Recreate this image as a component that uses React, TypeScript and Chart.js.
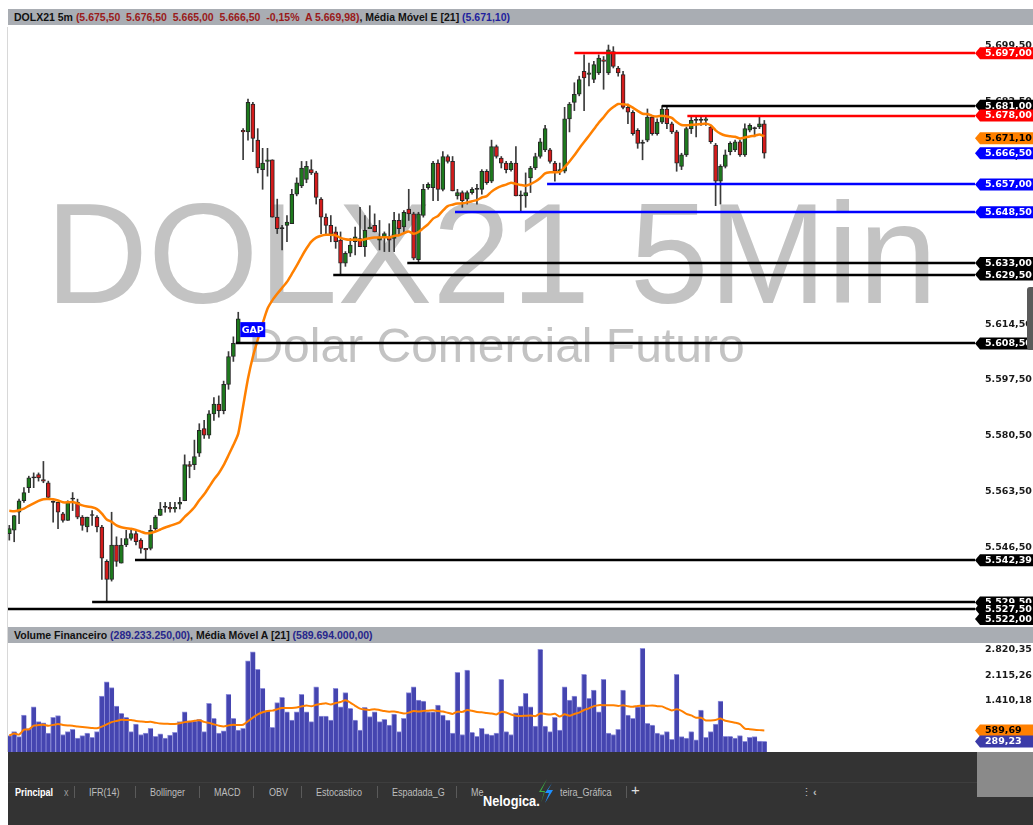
import React, { useEffect, useRef } from "react";
import { Chart, registerables } from "chart.js";

Chart.register(...registerables);

// ---------------- DATA ----------------
const SYMBOL = "DOLX21 5m";
const CHANGE_PCT = -0.15;
const AVG_PRICE = 5669.98;
const EMA_PERIOD = 21;
const EMA_SEED = 5558; // EMA value just before the first visible candle
const EMA_LAST = 5671.1;
const VOL_LAST = 289233250;
const VOL_MA_LAST = 589694000;
const VOL_MA_PERIOD = 21;

const OPEN = [
  5550.5, 5551.5, 5557, 5560.5, 5564.5, 5567.5, 5568.5, 5567, 5566, 5560,
  5560, 5556.5, 5554.5, 5561, 5560, 5555.5, 5552.5, 5556, 5555.5, 5552.5,
  5542, 5536.5, 5547, 5541.5, 5547, 5549, 5550.5, 5548.5, 5546, 5546,
  5552, 5556, 5558.5, 5558.5, 5558, 5559.5, 5560.5, 5571.5, 5571.5, 5575,
  5582.5, 5580.5, 5587, 5590, 5588, 5596, 5604.5, 5608.5, 5673.5, 5673,
  5681.5, 5670.5, 5661.5, 5664, 5664.5, 5647, 5643.5, 5644.5, 5645, 5654,
  5656.5, 5658.5, 5661.5, 5660.5, 5652.5, 5647, 5644.5, 5642.5, 5640, 5633,
  5636, 5639.5, 5640.5, 5638, 5643.5, 5644.5, 5640, 5641, 5641, 5640.5,
  5646, 5644, 5649.5, 5648, 5634, 5647.5, 5656, 5656, 5663.5, 5655.5,
  5665.5, 5664, 5653.5, 5654.5, 5652.5, 5654.5, 5655.5, 5655.5, 5661, 5658,
  5668.5, 5665, 5663.5, 5661.5, 5663.5, 5653.5, 5653.5, 5659, 5662, 5665.5,
  5667.5, 5667.5, 5663.5, 5661, 5661, 5677, 5682, 5684.5, 5691.5, 5690.5,
  5689, 5691, 5695, 5691, 5697.5, 5692.5, 5690.5, 5680.5, 5679, 5673.5,
  5669.5, 5670.5, 5677.5, 5672.5, 5676, 5680, 5675.5, 5673, 5662.5, 5666,
  5674, 5676.5, 5676.5, 5676.5, 5674.5, 5669, 5658, 5662.5, 5667, 5667.5,
  5670, 5666, 5673.5, 5674, 5674.5, 5675.5,
];
const HIGH = [
  5553, 5556, 5561, 5564.5, 5568, 5569, 5569, 5572.5, 5566.5, 5560.5,
  5560, 5557, 5560.5, 5563, 5561, 5556, 5555.5, 5557.5, 5556, 5553,
  5542.5, 5557, 5549.5, 5549, 5551.5, 5552, 5551.5, 5549, 5546, 5553,
  5556, 5560, 5560, 5560, 5560, 5561.5, 5574.5, 5572.5, 5579, 5584,
  5585, 5588, 5592, 5592.5, 5597, 5606, 5610.5, 5618, 5674, 5683,
  5682, 5674, 5668, 5668, 5664.5, 5652.5, 5644.5, 5647.5, 5655.5, 5659,
  5664, 5664, 5664.5, 5661, 5653, 5648, 5647.5, 5644, 5642.5, 5636.5,
  5640.5, 5644, 5650, 5647.5, 5650.5, 5648, 5646, 5642.5, 5645, 5648.5,
  5648, 5649, 5655.5, 5648.5, 5648.5, 5657, 5657.5, 5664, 5664.5, 5667,
  5666, 5665.5, 5655.5, 5655, 5655, 5656, 5657, 5661.5, 5661.5, 5670.5,
  5669, 5665.5, 5664, 5664, 5668.5, 5655, 5660.5, 5662.5, 5666.5, 5671,
  5675, 5668, 5664, 5663.5, 5680.5, 5682, 5688, 5690, 5696.5, 5694,
  5694.5, 5696.5, 5696, 5699.5, 5699, 5693, 5691.5, 5681.5, 5679.5, 5674,
  5670.5, 5680, 5678, 5677, 5681, 5681, 5676, 5673.5, 5666.5, 5674.5,
  5678, 5678, 5678, 5678, 5675, 5669.5, 5663, 5667.5, 5670, 5670.5,
  5670.5, 5675.5, 5675.5, 5674.5, 5678, 5676.5,
];
const LOW = [
  5548.5, 5548, 5553.5, 5560, 5563, 5564.5, 5566.5, 5566, 5561, 5554,
  5552, 5554, 5554.5, 5557.5, 5555, 5551.5, 5551, 5553, 5551, 5536.5,
  5529.5, 5536, 5540.5, 5541.5, 5546.5, 5548.5, 5547, 5544.5, 5542.5, 5545.5,
  5551.5, 5556, 5557, 5557, 5557, 5558, 5560.5, 5567.5, 5570, 5574,
  5579.5, 5579.5, 5585, 5586, 5587, 5594.5, 5603, 5608.5, 5664.5, 5670.5,
  5667, 5660.5, 5655.5, 5659.5, 5647, 5642, 5637, 5639.5, 5645, 5653.5,
  5656, 5657.5, 5660, 5651, 5642, 5642, 5639.5, 5637.5, 5629.5, 5632,
  5635, 5635.5, 5638, 5635, 5643.5, 5642.5, 5637, 5636.5, 5636.5, 5636.5,
  5641.5, 5642.5, 5646, 5634, 5633, 5647, 5655.5, 5652, 5652, 5655,
  5663.5, 5655, 5652.5, 5650, 5651, 5654, 5651, 5654, 5657, 5657.5,
  5665, 5662, 5660.5, 5661, 5653.5, 5648.5, 5650, 5654.5, 5661.5, 5665,
  5667, 5663.5, 5658, 5660, 5660.5, 5673, 5679.5, 5684, 5679.5, 5687,
  5688, 5690.5, 5686, 5690.5, 5692.5, 5690, 5680, 5675.5, 5672, 5668,
  5664.5, 5670, 5672, 5672, 5675.5, 5674, 5672.5, 5661, 5661.5, 5665.5,
  5672.5, 5671.5, 5675, 5675, 5669.5, 5650.5, 5651, 5662, 5666, 5667,
  5665.5, 5665.5, 5673, 5671.5, 5674, 5665,
];
const CLOSE = [
  5552, 5556, 5560.5, 5563, 5567.5, 5567.5, 5567.5, 5566.5, 5561.5, 5560,
  5557, 5554.5, 5560, 5561, 5555.5, 5553, 5555.5, 5556, 5552.5, 5543,
  5536.5, 5547, 5542, 5547, 5549, 5550.5, 5548, 5546, 5545.5, 5551.5,
  5555.5, 5558, 5558.5, 5558, 5558.5, 5560, 5571.5, 5571, 5574, 5582,
  5580.5, 5587, 5590, 5588, 5596, 5604.5, 5608.5, 5616, 5673, 5682,
  5671, 5662, 5663.5, 5664.5, 5647, 5643.5, 5643.5, 5645.5, 5654, 5657.5,
  5662, 5662.5, 5660.5, 5653, 5647, 5644.5, 5642, 5639.5, 5633, 5636,
  5638.5, 5641, 5638, 5643, 5644, 5642.5, 5641, 5642, 5640, 5646,
  5643.5, 5648.5, 5648, 5634.5, 5648, 5655.5, 5657, 5663.5, 5655.5, 5665.5,
  5664, 5655, 5654.5, 5652, 5654.5, 5655.5, 5655.5, 5661, 5657.5, 5668.5,
  5665.5, 5663.5, 5661.5, 5663.5, 5653.5, 5653.5, 5654.5, 5662, 5665.5, 5670,
  5674, 5664, 5661, 5661.5, 5677, 5681.5, 5684.5, 5689, 5689.5, 5691,
  5693.5, 5695.5, 5694.5, 5698, 5693, 5691, 5680.5, 5679, 5672.5, 5669.5,
  5669.5, 5677.5, 5672.5, 5676, 5680, 5675.5, 5673, 5663.5, 5666, 5674,
  5676.5, 5676.5, 5676.5, 5677, 5670, 5658, 5662.5, 5666, 5669.5, 5670,
  5666, 5674, 5675, 5674, 5675.5, 5666.5,
];
// financial volume, in millions
const VOLUME = [
  450, 560, 420, 1013, 640, 1240, 830, 802, 520, 950,
  994, 480, 560, 621, 380, 450, 520, 400, 560, 1533,
  1925, 1761, 1259, 1059, 950, 560, 767, 480, 520, 648,
  430, 500, 380, 460, 540, 830, 1103, 849, 849, 895,
  560, 1333, 922, 520, 580, 1580, 922, 600, 650, 2500,
  2746, 2264, 1744, 1131, 676, 1350, 1498, 1103, 876, 1103,
  1580, 1103, 830, 1788, 986, 986, 876, 1744, 1240, 1624,
  1196, 876, 600, 1223, 967, 1103, 830, 895, 739, 1040,
  560, 922, 1624, 1788, 1424, 1396, 1103, 1103, 1287, 1013,
  876, 520, 2182, 480, 2245, 540, 430, 648, 500, 460,
  520, 1990, 560, 480, 1076, 1259, 1607, 1240, 712, 2812,
  712, 560, 950, 600, 1788, 1424, 1533, 1240, 2127, 1470,
  1698, 1103, 1990, 520, 480, 621, 1698, 1013, 922, 1240,
  2839, 785, 739, 520, 480, 560, 350, 2127, 420, 380,
  560, 330, 1150, 400, 560, 767, 1396, 430, 430, 380,
  450, 290, 400, 420, 300, 289.23,
];

// user drawn horizontal levels
const LEVELS = [5697, 5681, 5678, 5657, 5648.5, 5633, 5629.5, 5608.5, 5542.39, 5529.5, 5527.5, 5522];
const LEVEL_KIND = ["res", "neu", "res", "sup", "sup", "neu", "neu", "neu", "neu", "neu", "neu", "neu"];
const LEVEL_FROM: (number | null)[] = [116, 134, 139.2, 110.4, 91.5, 81.7, 66.5, 46.5, 25.8, 17, -1, null];

const PRICE_TICKS = [5546.5, 5563.5, 5580.5, 5597.5, 5614.5, 5631.5, 5648.5, 5665.5, 5682.5, 5699.5];
const VOL_TICKS = [1410.18, 2115.26, 2820.35];

const GAP_AT = { index: 47, price: 5612.7, text: "GAP" };
const WATERMARK_TITLE = "DOLX21 5Min";
const WATERMARK_SUB = "Dolar Comercial Futuro";

const TABS = ["IFR(14)", "Bollinger", "MACD", "OBV", "Estocastico", "Espadada_G", "Me"];

// ---------------- STYLE ----------------
const X_MIN = -0.27;
const X_MAX = 198.25;
const Y_MIN = 5522;
const Y_MAX = 5705;
const V_MIN = 0;
const V_MAX = 2985;
const ORANGE = "#ff8000";
const KIND_COLOR: Record<string, string> = { res: "#ff0000", neu: "#000000", sup: "#0000ff" };
const AXIS_FONT = 'bold 9.5px "DejaVu Sans"';

// ---------------- HELPERS ----------------
function fmt(v: number, d: number) {
  const s = Math.abs(v).toFixed(d);
  const [ip, dp] = s.split(".");
  const ipf = ip.replace(/\B(?=(\d{3})+(?!\d))/g, ".");
  return (v < 0 ? "-" : "") + ipf + (dp ? "," + dp : "");
}
function computeEma(values: number[], period: number, seed: number) {
  const k = 2 / (period + 1);
  let e = seed;
  return values.map((v) => (e = e + k * (v - e)));
}
function computeSma(values: number[], period: number) {
  return values.map((_, i) => {
    const w = values.slice(Math.max(0, i - period + 1), i + 1);
    return w.reduce((a, b) => a + b, 0) / w.length;
  });
}
function drawTag(ctx: CanvasRenderingContext2D, x: number, y: number, w: number, text: string, fill: string, color: string) {
  const h = 12;
  const tip = 5;
  ctx.beginPath();
  ctx.moveTo(x, y);
  ctx.lineTo(x + tip, y - h / 2);
  ctx.lineTo(x + w, y - h / 2);
  ctx.lineTo(x + w, y + h / 2);
  ctx.lineTo(x + tip, y + h / 2);
  ctx.closePath();
  ctx.fillStyle = fill;
  ctx.fill();
  ctx.fillStyle = color;
  ctx.font = AXIS_FONT;
  ctx.textAlign = "left";
  ctx.textBaseline = "middle";
  ctx.fillText(text, x + 10, y + 0.5);
}

const pricePlugin = {
  id: "priceDecor",
  beforeDatasetsDraw(chart: any) {
    const { ctx, chartArea: a } = chart;
    ctx.save();
    ctx.fillStyle = "#c3c3c3";
    ctx.textAlign = "center";
    ctx.textBaseline = "alphabetic";
    const cx = (a.left + a.right) / 2;
    ctx.font = '142px "Liberation Sans"';
    ctx.fillText(WATERMARK_TITLE, cx, a.top + 276);
    ctx.font = '48px "Liberation Sans"';
    ctx.fillText(WATERMARK_SUB, cx + 5, a.top + 335);
    ctx.restore();
  },
  afterDatasetsDraw(chart: any) {
    const { ctx, chartArea: a, scales } = chart;
    const xs = scales.x;
    const ys = scales.y;
    ctx.save();
    ctx.beginPath();
    ctx.rect(a.left, a.top, a.right - a.left, a.bottom - a.top);
    ctx.clip();
    LEVELS.forEach((lv, i) => {
      const from = LEVEL_FROM[i];
      if (from === null) return;
      const y = Math.round(ys.getPixelForValue(lv));
      const x0 = Math.max(a.left, xs.getPixelForValue(from));
      ctx.strokeStyle = KIND_COLOR[LEVEL_KIND[i]];
      ctx.lineWidth = 2.5;
      ctx.beginPath();
      ctx.moveTo(x0, y);
      ctx.lineTo(a.right, y);
      ctx.stroke();
    });
    // GAP marker
    const gx = xs.getPixelForValue(GAP_AT.index) + 2;
    const gy = ys.getPixelForValue(GAP_AT.price);
    ctx.fillStyle = "#0000ff";
    ctx.fillRect(gx, gy - 7.5, 25, 15);
    ctx.fillStyle = "#ffffff";
    ctx.font = 'bold 9.5px "DejaVu Sans"';
    ctx.textAlign = "center";
    ctx.textBaseline = "middle";
    ctx.fillText(GAP_AT.text, gx + 12.5, gy + 0.5);
    ctx.restore();
  },
  afterDraw(chart: any) {
    const { ctx, chartArea: a, scales, width } = chart;
    const ys = scales.y;
    ctx.save();
    PRICE_TICKS.forEach((t) => {
      ctx.fillStyle = "#1a1a1a";
      ctx.font = AXIS_FONT;
      ctx.textAlign = "left";
      ctx.textBaseline = "middle";
      ctx.fillText(fmt(t, 2), a.right + 10, ys.getPixelForValue(t) + 0.5);
    });
    const tags: { v: number; text: string; fill: string; color: string }[] = LEVELS.map((lv, i) => ({
      v: lv,
      text: fmt(lv, 2),
      fill: KIND_COLOR[LEVEL_KIND[i]],
      color: "#ffffff",
    }));
    tags.push({ v: EMA_LAST, text: fmt(EMA_LAST, 2), fill: ORANGE, color: "#000000" });
    const last = CLOSE[CLOSE.length - 1];
    tags.push({ v: last, text: fmt(last, 2), fill: "#0000ff", color: "#ffffff" });
    tags.sort((p, q) => q.v - p.v);
    tags.forEach((t) => {
      let y = ys.getPixelForValue(t.v);
      y = Math.min(Math.max(y, a.top + 6), a.bottom - 8);
      drawTag(ctx, a.right, y, width - a.right, t.text, t.fill, t.color);
    });
    ctx.restore();
  },
};

const volumePlugin = {
  id: "volDecor",
  afterDraw(chart: any) {
    const { ctx, chartArea: a, scales, width } = chart;
    const ys = scales.y;
    ctx.save();
    VOL_TICKS.forEach((t) => {
      ctx.fillStyle = "#1a1a1a";
      ctx.font = AXIS_FONT;
      ctx.textAlign = "left";
      ctx.textBaseline = "middle";
      ctx.fillText(fmt(t, 2), a.right + 10, ys.getPixelForValue(t) + 0.5);
    });
    const ma = VOL_MA_LAST / 1e6;
    const lv = VOL_LAST / 1e6;
    drawTag(ctx, a.right, ys.getPixelForValue(ma), width - a.right, fmt(ma, 2), ORANGE, "#000000");
    drawTag(ctx, a.right, ys.getPixelForValue(lv), width - a.right, fmt(lv, 2), "#3b3ba8", "#ffffff");
    ctx.restore();
  },
};

function PriceChart() {
  const ref = useRef<HTMLCanvasElement>(null);
  useEffect(() => {
    const idx = CLOSE.map((_, i) => i);
    const ema = computeEma(CLOSE, EMA_PERIOD, EMA_SEED);
    const bodyColors = idx.map((i) =>
      CLOSE[i] > OPEN[i] ? "#1d7a1d" : CLOSE[i] < OPEN[i] ? "#d41b1b" : "#222222"
    );
    const chart = new Chart(ref.current as HTMLCanvasElement, {
      type: "bar",
      data: {
        datasets: [
          {
            type: "line",
            data: idx.map((i) => ({ x: i, y: ema[i] })),
            borderColor: ORANGE,
            borderWidth: 2.5,
            pointRadius: 0,
            tension: 0.2,
            order: 0,
          } as any,
          {
            type: "bar",
            data: idx.map((i) => ({ x: i, y: [Math.min(OPEN[i], CLOSE[i]), Math.max(OPEN[i], CLOSE[i])] })),
            backgroundColor: bodyColors,
            borderColor: "#262626",
            borderWidth: 1,
            borderSkipped: false,
            barThickness: 4,
            minBarLength: 1,
            grouped: false,
            order: 1,
          } as any,
          {
            type: "bar",
            data: idx.map((i) => ({ x: i, y: [LOW[i], HIGH[i]] })),
            backgroundColor: "#3a3a3a",
            barThickness: 1,
            grouped: false,
            order: 2,
          } as any,
        ],
      },
      options: {
        animation: false,
        responsive: false,
        devicePixelRatio: 1,
        events: [],
        layout: { padding: { left: 0, right: 58, top: 0, bottom: 0 } },
        plugins: { legend: { display: false }, tooltip: { enabled: false } },
        scales: {
          x: { type: "linear", min: X_MIN, max: X_MAX, display: false, offset: false },
          y: { type: "linear", min: Y_MIN, max: Y_MAX, display: false },
        },
      } as any,
      plugins: [pricePlugin],
    });
    return () => chart.destroy();
  }, []);
  return (
    <canvas
      ref={ref}
      width={1025}
      height={600}
      style={{ position: "absolute", left: 8, top: 27, width: 1025, height: 600 }}
    />
  );
}

function VolumeChart() {
  const ref = useRef<HTMLCanvasElement>(null);
  useEffect(() => {
    const idx = VOLUME.map((_, i) => i);
    const ma = computeSma(VOLUME, VOL_MA_PERIOD);
    const chart = new Chart(ref.current as HTMLCanvasElement, {
      type: "bar",
      data: {
        datasets: [
          {
            type: "line",
            data: idx.map((i) => ({ x: i, y: ma[i] })),
            borderColor: ORANGE,
            borderWidth: 2,
            pointRadius: 0,
            tension: 0.2,
            order: 0,
          } as any,
          {
            type: "bar",
            data: idx.map((i) => ({ x: i, y: VOLUME[i] })),
            backgroundColor: "#4545b0",
            borderColor: "#9191dc",
            borderWidth: { left: 1, right: 0, top: 1, bottom: 0 },
            borderSkipped: false,
            barThickness: 5,
            grouped: false,
            order: 1,
          } as any,
        ],
      },
      options: {
        animation: false,
        responsive: false,
        devicePixelRatio: 1,
        events: [],
        layout: { padding: { left: 0, right: 58, top: 0, bottom: 0 } },
        plugins: { legend: { display: false }, tooltip: { enabled: false } },
        scales: {
          x: { type: "linear", min: X_MIN, max: X_MAX, display: false, offset: false },
          y: { type: "linear", min: V_MIN, max: V_MAX, display: false },
        },
      } as any,
      plugins: [volumePlugin],
    });
    return () => chart.destroy();
  }, []);
  return (
    <canvas
      ref={ref}
      width={1025}
      height={109}
      style={{ position: "absolute", left: 8, top: 643, width: 1025, height: 109 }}
    />
  );
}

const headerStyle: React.CSSProperties = {
  position: "absolute",
  left: 8,
  width: 1019,
  height: 16,
  paddingLeft: 6,
  background: "#a9adb3",
  font: 'bold 10.5px "Liberation Sans"',
  lineHeight: "16px",
  whiteSpace: "pre",
  color: "#111",
  overflow: "hidden",
};

export default function App() {
  const n = CLOSE.length - 1;
  const stats = `(${fmt(OPEN[n], 2)}  ${fmt(HIGH[n], 2)}  ${fmt(LOW[n], 2)}  ${fmt(CLOSE[n], 2)}  ${fmt(CHANGE_PCT, 2)}%  A ${fmt(AVG_PRICE, 2)})`;
  const tabStyle: React.CSSProperties = {
    position: "absolute",
    top: 785,
    font: '11px "Liberation Sans"',
    color: "#bdbdbd",
    lineHeight: "14px",
    whiteSpace: "pre",
    transform: "scaleX(0.82)",
    transformOrigin: "left center",
  };
  const tabX = [89, 150, 214, 269, 316, 392, 471];
  const sepX = [74, 135, 199, 253, 301, 377, 456, 626];
  return (
    <div style={{ position: "fixed", left: 0, top: 0, width: 1033, height: 825, overflow: "hidden", background: "#fff" }}>
      <div style={{ ...headerStyle, top: 9 }}>
        <span>{SYMBOL} </span>
        <span style={{ color: "#9a1a1a" }}>{stats}</span>
        <span>, Média Móvel E [{EMA_PERIOD}] </span>
        <span style={{ color: "#1f1f9e" }}>({fmt(EMA_LAST, 2)})</span>
      </div>
      <div style={{ position: "absolute", left: 7, top: 27, width: 1, height: 725, background: "#d8d8d8" }} />
      <PriceChart />
      <div style={{ ...headerStyle, top: 627 }}>
        <span>Volume Financeiro </span>
        <span style={{ color: "#26268c" }}>({fmt(VOL_LAST, 2)})</span>
        <span>, Média Móvel A [{VOL_MA_PERIOD}] </span>
        <span style={{ color: "#26268c" }}>({fmt(VOL_MA_LAST, 2)})</span>
      </div>
      <VolumeChart />
      <div style={{ position: "absolute", left: 1027, top: 287, width: 6, height: 63, background: "#5a5a5a", borderRadius: "3px 0 0 3px" }} />
      <div style={{ position: "absolute", left: 8, top: 752, width: 1025, height: 73, background: "#333333" }} />
      <div style={{ position: "absolute", left: 8, top: 782, width: 1025, height: 1, background: "#3e3e3e" }} />
      <div style={{ position: "absolute", left: 977, top: 752, width: 56, height: 45, background: "#8a8a8a" }} />
      <div style={{ ...tabStyle, left: 15, color: "#ffffff", fontWeight: "bold" }}>Principal</div>
      <div style={{ ...tabStyle, left: 64, color: "#9a9a9a" }}>x</div>
      {TABS.map((t, i) => (
        <div key={t} style={{ ...tabStyle, left: tabX[i] }}>{t}</div>
      ))}
      <div style={{ ...tabStyle, left: 560 }}>teira_Gráfica</div>
      {sepX.map((x) => (
        <div key={x} style={{ position: "absolute", left: x, top: 786, width: 1, height: 12, background: "#5a5a5a" }} />
      ))}
      <div style={{ ...tabStyle, left: 631, color: "#e0e0e0", fontSize: 15, top: 783, transform: "none" }}>+</div>
      <div style={{ ...tabStyle, left: 801, color: "#bdbdbd", transform: "none" }}>⋮</div>
      <div style={{ ...tabStyle, left: 813, color: "#bdbdbd", fontWeight: "bold", transform: "none" }}>‹</div>
      <div
        style={{
          position: "absolute",
          left: 483,
          top: 792,
          font: 'bold 15px "Liberation Sans"',
          color: "#ffffff",
          lineHeight: "18px",
          transform: "scaleX(0.85)",
          transformOrigin: "left center",
          whiteSpace: "pre",
        }}
      >
        Nelogica.
      </div>
      <svg style={{ position: "absolute", left: 536, top: 779 }} width={18} height={24} viewBox="0 0 18 24">
        <polygon points="11,0 3,13 8,13 5,24 9,12 5,12" fill="#3cb043" />
        <polygon points="16,4 9,14 13,14 9,24 17,11 12,11" fill="#1e90ff" />
      </svg>
    </div>
  );
}
